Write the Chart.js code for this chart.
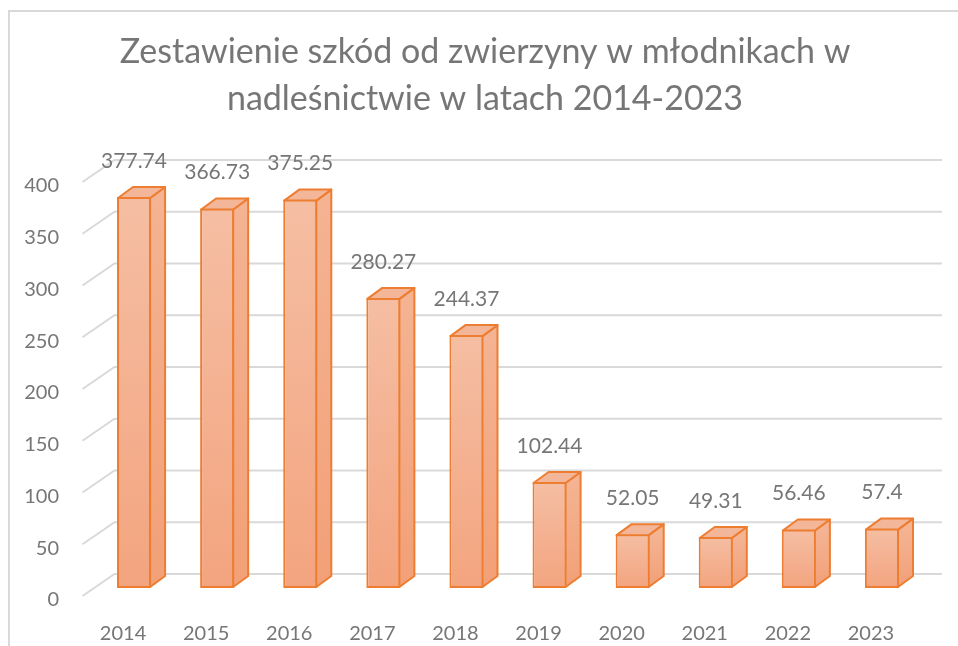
<!DOCTYPE html>
<html>
<head>
<meta charset="utf-8">
<script src="https://cdn.jsdelivr.net/npm/chart.js@4"></script>
<style>
  html, body { margin: 0; padding: 0; background: #ffffff; }
  #wrap { width: 958px; height: 646px; position: relative; }
</style>
</head>
<body>
<div id="wrap"><canvas id="c"></canvas></div>
<script>
const categories = ['2014', '2015', '2016', '2017', '2018', '2019', '2020', '2021', '2022', '2023'];
const values = [377.74, 366.73, 375.25, 280.27, 244.37, 102.44, 52.05, 49.31, 56.46, 57.4];
const yTicks = [0, 50, 100, 150, 200, 250, 300, 350, 400];
const titleLines = ['Zestawienie szkód od zwierzyny w młodnikach w', 'nadleśnictwie w latach 2014-2023'];

const TEXT = '#767676';
const GRID = '#d9d9d9';
const EDGE = '#ED7D31';
const DX = 15, DY = -11;          // bar depth
const WALL_DX = 32, WALL_DY = -22; // wall depth (front edge -> back wall)

function frontGradient(ctx, top, base) {
  const g = ctx.createLinearGradient(0, top, 0, base);
  g.addColorStop(0, '#F5BEA3');
  g.addColorStop(1, '#F3A47F');
  return g;
}

const threeD = {
  id: 'threeD',
  beforeDraw(chart) {
    const ctx = chart.ctx;
    ctx.save();
    ctx.strokeStyle = GRID;
    ctx.lineWidth = 2;
    ctx.beginPath();
    ctx.moveTo(9, chart.height);
    ctx.lineTo(9, 11);
    ctx.lineTo(chart.width, 11);
    ctx.stroke();
    // title
    ctx.fillStyle = TEXT;
    ctx.font = '34px Lato';
    ctx.textAlign = 'center';
    ctx.textBaseline = 'middle';
    titleLines.forEach((t, i) => ctx.fillText(t, 485, 52 + i * 47));
    ctx.restore();
  },
  beforeDatasetsDraw(chart) {
    const ctx = chart.ctx;
    const y = chart.scales.y;
    const area = chart.chartArea;
    ctx.save();
    ctx.strokeStyle = GRID;
    ctx.lineWidth = 2;
    yTicks.forEach(v => {
      const p = y.getPixelForValue(v);
      const fx = area.left - 10, fy = p + 8;
      const bx = fx + WALL_DX, by = fy + WALL_DY;
      ctx.beginPath();
      ctx.moveTo(fx, fy);
      ctx.lineTo(bx, by);
      ctx.lineTo(area.right + 18.5, by);
      ctx.stroke();
    });
    ctx.restore();
  },
  afterDatasetsDraw(chart) {
    const ctx = chart.ctx;
    const meta = chart.getDatasetMeta(0);
    const yScale = chart.scales.y;
    const xScale = chart.scales.x;
    ctx.save();
    ctx.lineWidth = 2;
    ctx.lineJoin = 'round';
    ctx.strokeStyle = EDGE;
    meta.data.forEach((bar, i) => {
      const p = bar.getProps(['x', 'y', 'base', 'width'], true);
      const xL = p.x - p.width / 2 + 1, xR = p.x + p.width / 2 - 1;
      const top = p.y + 1, base = p.base - 1;
      // side face
      const sg = ctx.createLinearGradient(0, top, 0, base);
      sg.addColorStop(0, '#F4B393');
      sg.addColorStop(1, '#F2A077');
      ctx.fillStyle = sg;
      ctx.beginPath();
      ctx.moveTo(xR, top);
      ctx.lineTo(xR + DX, top + DY);
      ctx.lineTo(xR + DX, base + DY);
      ctx.lineTo(xR, base);
      ctx.closePath();
      ctx.fill();
      ctx.stroke();
      // top face
      ctx.fillStyle = '#F4B698';
      ctx.beginPath();
      ctx.moveTo(xL, top);
      ctx.lineTo(xL + DX, top + DY);
      ctx.lineTo(xR + DX, top + DY);
      ctx.lineTo(xR, top);
      ctx.closePath();
      ctx.fill();
      ctx.stroke();
      // data label
      ctx.fillStyle = TEXT;
      ctx.font = '21px Lato';
      ctx.textAlign = 'center';
      ctx.textBaseline = 'middle';
      ctx.fillText(String(values[i]), p.x, p.y - 36);
    });
    // y tick labels (front plane)
    ctx.fillStyle = TEXT;
    ctx.font = '20px Lato';
    ctx.textAlign = 'right';
    ctx.textBaseline = 'middle';
    yTicks.forEach(v => {
      ctx.fillText(String(v), 59, yScale.getPixelForValue(v) + 12);
    });
    // x labels (front plane)
    ctx.textAlign = 'center';
    categories.forEach((c, i) => {
      ctx.fillText(c, xScale.getPixelForValue(i) - 11, 634);
    });
    ctx.restore();
  }
};

new Chart(document.getElementById('c'), {
  type: 'bar',
  data: {
    labels: categories,
    datasets: [{
      data: values,
      backgroundColor(context) {
        const chart = context.chart;
        const ys = chart.scales.y;
        if (!ys || !chart.chartArea || context.dataIndex === undefined) return '#F4AE8C';
        const v = values[context.dataIndex];
        return frontGradient(chart.ctx, ys.getPixelForValue(v), ys.getPixelForValue(0));
      },
      borderColor: EDGE,
      borderWidth: 2,
      borderSkipped: false,
      categoryPercentage: 1,
      barPercentage: 0.41
    }]
  },
  options: {
    responsive: true,
    maintainAspectRatio: false,
    animation: false,
    layout: { padding: { top: 174, left: 92.5, right: 34.5, bottom: 58 } },
    scales: {
      x: { display: false },
      y: { display: false, min: 0, max: 400 }
    },
    plugins: {
      legend: { display: false },
      tooltip: { enabled: false },
      title: { display: false }
    }
  },
  plugins: [threeD]
});
</script>
</body>
</html>
